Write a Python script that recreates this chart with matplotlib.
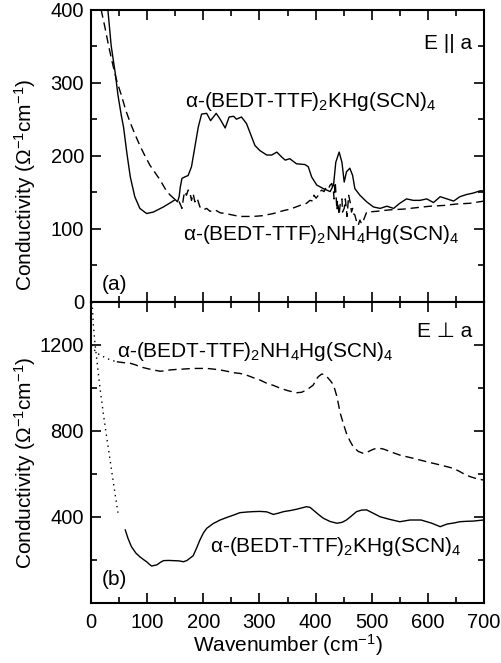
import matplotlib
matplotlib.use("Agg")
import matplotlib.pyplot as plt
from matplotlib.ticker import MultipleLocator

plt.rcParams['font.family'] = ['Liberation Sans', 'DejaVu Sans']
plt.rcParams['mathtext.fontset'] = 'custom'
plt.rcParams['mathtext.rm'] = 'Liberation Sans'
plt.rcParams['mathtext.it'] = 'Liberation Sans:italic'
plt.rcParams['mathtext.bf'] = 'Liberation Sans:bold'

# ---------------- data: panel (a) E || a ----------------
khg_a_x = [30, 36, 43, 48, 54, 58, 64, 70, 78, 87,
           99, 111, 129, 144, 150, 154, 157, 159, 162, 167,
           173, 179, 185, 191, 197, 206, 213, 216, 223, 230,
           239, 246, 254, 259, 268, 277, 286, 292, 301, 313,
           322, 331, 340, 346, 354, 366, 381, 387, 393, 402,
           414, 426, 432, 436, 442, 447, 451, 455, 461, 466,
           470, 479, 491, 503, 515, 527, 539, 550, 562, 574,
           586, 598, 610, 622, 634, 646, 657, 669, 681, 693, 700]
khg_a_y = [400, 350, 314, 283, 255, 239, 203, 171, 144, 128,
           121, 123, 130, 137, 140, 137, 144, 157, 169, 171,
           173, 185, 212, 239, 257, 258, 248, 251, 258, 250,
           238, 253, 254, 250, 253, 244, 226, 214, 207, 201,
           201, 205, 198, 194, 196, 189, 188, 185, 171, 160,
           155, 151, 160, 191, 205, 191, 164, 178, 183, 173,
           155, 146, 137, 130, 128, 131, 128, 135, 141, 139,
           139, 141, 136, 144, 141, 138, 144, 147, 149, 152, 152]

nh4_a_x = [18, 25, 32, 39, 46, 54, 62, 70, 78, 87,
           96, 105, 114, 123, 132, 140, 147, 152, 157, 160,
           162, 165, 167, 170, 173, 176, 179, 182, 185, 189,
           194, 200, 206, 212, 221, 230, 239, 252, 265, 277,
           289, 305, 325, 343, 355, 372, 384, 390, 395, 397,
           401, 405, 408, 411, 415, 419, 423, 426, 429, 432,
           433, 435, 438, 439, 442, 444, 447, 448, 451, 453,
           456, 459, 462, 464, 466, 467, 470, 473, 476, 479,
           482, 485, 491, 509, 532, 556, 580, 604, 628, 651, 675, 700]
nh4_a_y = [400, 375, 348, 324, 302, 283, 262, 245, 230, 214,
           200, 187, 177, 167, 155, 147, 142, 139, 137, 132,
           128, 144, 151, 146, 153, 151, 139, 148, 137, 142,
           130, 126, 128, 124, 126, 122, 121, 119, 117, 117,
           117, 118, 121, 125, 127, 132, 135, 139, 138, 146,
           142, 146, 151, 153, 151, 157, 155, 160, 162, 150,
           141, 164, 126, 139, 119, 135, 141, 123, 128, 141,
           117, 146, 135, 123, 128, 121, 119, 110, 105, 112,
           107, 111, 123, 124, 126, 127, 129, 131, 132, 134, 135, 138]

# ---------------- data: panel (b) E perp a ----------------
khg_b_x = [61, 66, 72, 80, 87, 93, 99, 104, 108, 113,
           117, 123, 129, 138, 147, 156, 165, 171, 176, 182,
           188, 194, 200, 206, 218, 230, 242, 254, 265, 277,
           289, 301, 313, 325, 334, 343, 355, 366, 375, 384,
           390, 396, 405, 414, 426, 438, 447, 455, 464, 473,
           482, 491, 503, 515, 532, 550, 568, 588, 607, 622,
           634, 646, 657, 669, 681, 699]
khg_b_y = [340, 300, 262, 232, 215, 203, 192, 180, 172, 175,
           177, 188, 197, 198, 197, 196, 192, 198, 208, 220,
           255, 293, 325, 347, 370, 386, 398, 409, 420, 423,
           425, 426, 424, 412, 418, 425, 430, 436, 442, 448,
           445, 432, 412, 394, 379, 371, 375, 386, 405, 425,
           432, 433, 417, 401, 389, 378, 386, 386, 371, 355,
           367, 372, 378, 380, 381, 386]

nh4_b_x = [46, 58, 70, 80, 87, 99, 111, 123, 132, 141,
           150, 158, 170, 182, 194, 206, 218, 230, 242, 254,
           265, 277, 289, 301, 313, 325, 337, 350, 366, 375,
           384, 390, 396, 401, 405, 411, 416, 420, 426, 432,
           438, 444, 450, 455, 461, 467, 476, 485, 491, 497,
           503, 509, 515, 521, 533, 550, 574, 598, 622, 646,
           657, 666, 675, 687, 699]
nh4_b_y = [1122, 1118, 1115, 1107, 1099, 1091, 1084, 1078, 1080, 1084,
           1086, 1087, 1089, 1091, 1091, 1091, 1088, 1084, 1078, 1071,
           1068, 1060, 1048, 1037, 1022, 1012, 999, 988, 978, 980,
           991, 1002, 1014, 1040, 1053, 1065, 1062, 1053, 1035, 1014,
           960, 882, 830, 789, 755, 727, 705, 696, 700, 708,
           715, 720, 719, 716, 704, 688, 673, 657, 642, 626,
           611, 598, 588, 578, 572]

# extrapolations (dotted)
khg_b_ext_x = [2, 4, 7, 10, 13, 16, 22, 28, 34, 41, 48]
khg_b_ext_y = [1400, 1300, 1210, 1140, 1070, 1000, 880, 770, 665, 540, 420]
nh4_b_ext_x = [1, 5, 10, 16, 25, 35, 46]
nh4_b_ext_y = [1200, 1180, 1165, 1153, 1142, 1130, 1122]

label_khg = 'α-(BEDT-TTF)$\\mathregular{_2}$KHg(SCN)$\\mathregular{_4}$'
label_nh4 = 'α-(BEDT-TTF)$\\mathregular{_2}$NH$\\mathregular{_4}$Hg(SCN)$\\mathregular{_4}$'

fig = plt.figure(figsize=(5.02, 6.63), dpi=100)
W, H = 502, 663
L, R = 91, 484
axa = fig.add_axes([L / W, 1 - 302 / H, (R - L) / W, (302 - 9.5) / H])
axb = fig.add_axes([L / W, 1 - 603 / H, (R - L) / W, (603 - 302) / H])

lw = 1.0
dash = (0, (6, 3.5))
axa.plot(khg_a_x, khg_a_y, color='black', lw=lw)
axa.plot(nh4_a_x, nh4_a_y, color='black', lw=lw, linestyle=dash)
axb.plot(khg_b_x, khg_b_y, color='black', lw=lw)
axb.plot(nh4_b_x, nh4_b_y, color='black', lw=lw, linestyle=dash)
axb.plot(khg_b_ext_x, khg_b_ext_y, color='black', lw=1.0, linestyle=(0, (1, 3)))
axb.plot(nh4_b_ext_x, nh4_b_ext_y, color='black', lw=1.0, linestyle=(0, (1, 3)))

axa.set_xlim(0, 700)
axa.set_ylim(0, 400)
axb.set_xlim(0, 700)
axb.set_ylim(0, 1400)

fs = 14.5
for ax in (axa, axb):
    ax.xaxis.set_major_locator(MultipleLocator(100))
    ax.xaxis.set_minor_locator(MultipleLocator(50))
    ax.tick_params(which='both', direction='in', top=True, right=True,
                   width=1.2, labelsize=fs)
    ax.tick_params(which='major', length=7)
    ax.tick_params(which='minor', length=4)
    ax.tick_params(axis='x', pad=7)
    ax.tick_params(axis='y', pad=5)
    for s in ax.spines.values():
        s.set_linewidth(1.5)

axa.yaxis.set_major_locator(MultipleLocator(100))
axa.yaxis.set_minor_locator(MultipleLocator(50))
axa.tick_params(axis='x', labelbottom=False)
axb.yaxis.set_major_locator(MultipleLocator(400))
axb.yaxis.set_minor_locator(MultipleLocator(200))
axb.set_yticks([400, 800, 1200])

tfs = 15
axa.text(679, 353, 'E || a', ha='right', va='center', fontsize=tfs)
axa.text(167, 267, label_khg, ha='left', va='baseline', fontsize=tfs)
axa.text(164, 85, label_nh4, ha='left', va='baseline', fontsize=tfs)
axa.text(19, 24, '(a)', ha='left', va='center', fontsize=tfs)

axb.text(679, 1262, 'E \u22a5 a', ha='right', va='center', fontsize=tfs)
axb.text(46, 1144, label_nh4, ha='left', va='baseline', fontsize=tfs)
axb.text(212, 237, label_khg, ha='left', va='baseline', fontsize=tfs)
axb.text(19, 107, '(b)', ha='left', va='center', fontsize=tfs)

ylab = 'Conductivity (Ω$\\mathregular{^{-1}}$cm$\\mathregular{^{-1}}$)'
fig.text(25 / W, 1 - 185 / H, ylab, rotation=90, ha='center', va='center', fontsize=tfs)
fig.text(25 / W, 1 - 463 / H, ylab, rotation=90, ha='center', va='center', fontsize=tfs)
fig.text(287.5 / W, 1 - 652 / H, 'Wavenumber (cm$\\mathregular{^{-1}}$)',
         ha='center', va='baseline', fontsize=tfs)

fig.savefig('out.png', dpi=100)
